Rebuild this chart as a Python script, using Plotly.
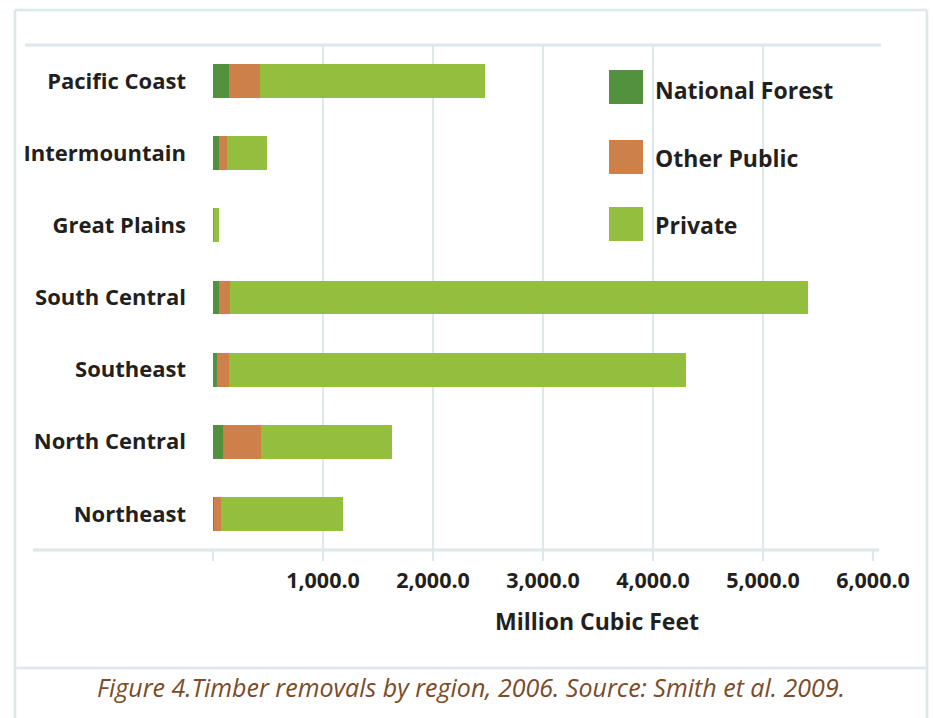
import plotly.graph_objects as go

regions = ["Pacific Coast", "Intermountain", "Great Plains", "South Central",
           "Southeast", "North Central", "Northeast"]
national_forest = [141, 59, 3, 50, 32, 87, 5]
other_public = [282, 64, 6, 100, 109, 346, 72]
private = [2049, 364, 50, 5255, 4162, 1193, 1102]
series_names = ["National Forest", "Other Public", "Private"]
series_colors = ["#52923F", "#CD804A", "#93BE3E"]
tick_values = [0, 1000, 2000, 3000, 4000, 5000, 6000]
tick_labels = ["", "1,000.0", "2,000.0", "3,000.0", "4,000.0", "5,000.0", "6,000.0"]

W, H = 933, 718
L, R, T, B = 213, 60, 45, 168
PW, PH = W - L - R, H - T - B
GRID = "#dce8e9"
TXT = "#231f20"
FONT = "Open Sans"


def px(x):
    return (x - L) / PW


def py(y):
    return (H - B - y) / PH


fig = go.Figure()
for name, vals, col in zip(series_names, [national_forest, other_public, private], series_colors):
    fig.add_trace(go.Bar(y=regions, x=vals, name=name, orientation="h",
                         marker=dict(color=col, line=dict(width=0)), showlegend=False))

shapes = []
# plot top/bottom lines
shapes.append(dict(type="line", xref="paper", yref="paper", x0=px(25), x1=px(881), y0=1, y1=1,
                   line=dict(color=GRID, width=3), layer="below"))
shapes.append(dict(type="line", xref="paper", yref="paper", x0=px(33), x1=px(879), y0=0, y1=0,
                   line=dict(color=GRID, width=3), layer="below"))
# outer frame
frame = [(15, 10, 15, 718), (15, 10, 927, 10), (927, 10, 927, 718), (15, 668, 927, 668)]
for x0, y0, x1, y1 in frame:
    shapes.append(dict(type="line", xref="paper", yref="paper", x0=px(x0), x1=px(x1),
                       y0=py(y0), y1=py(y1), line=dict(color=GRID, width=2.5)))
# legend
annotations = []
box_y = [87, 157, 224]
text_y = [90, 158, 225]
for name, col, yb, yt in zip(series_names, series_colors, box_y, text_y):
    shapes.append(dict(type="rect", xref="paper", yref="paper", x0=px(609), x1=px(643),
                       y0=py(yb - 17), y1=py(yb + 17), fillcolor=col, line=dict(width=0)))
    annotations.append(dict(xref="paper", yref="paper", x=px(653), y=py(yt), text=name,
                            showarrow=False, xanchor="left", yanchor="middle",
                            font=dict(family=FONT, size=23, color=TXT, weight="bold")))

annotations.append(dict(xref="paper", yref="paper", x=px(597), y=py(621), text="Million Cubic Feet",
                        showarrow=False, xanchor="center", yanchor="middle",
                        font=dict(family=FONT, size=23, color=TXT, weight="bold")))
annotations.append(dict(xref="paper", yref="paper", x=px(471), y=py(687),
                        text="Figure 4.Timber removals by region, 2006. Source: Smith et al. 2009.",
                        showarrow=False, xanchor="center", yanchor="middle",
                        font=dict(family=FONT, size=25, color="#7B4B2A", style="italic")))

fig.update_layout(
    width=W, height=H,
    margin=dict(l=L, r=R, t=T, b=B, pad=0),
    barmode="stack", bargap=0.53,
    plot_bgcolor="white", paper_bgcolor="white",
    shapes=shapes, annotations=annotations,
    xaxis=dict(range=[0, 6000], tickvals=tick_values, ticktext=tick_labels,
               showgrid=True, gridcolor=GRID, gridwidth=2, zeroline=False,
               ticks="outside", ticklen=10, tickwidth=2, tickcolor=GRID,
               showline=False, ticklabelstandoff=1,
               tickfont=dict(family=FONT, size=21.5, color=TXT, weight="bold")),
    yaxis=dict(categoryorder="array", categoryarray=regions, autorange="reversed",
               showgrid=False, zeroline=False, showline=False, ticks="",
               ticklabelstandoff=26,
               tickfont=dict(family=FONT, size=22, color=TXT, weight="bold")),
)

fig.write_html("out.html", config={"displayModeBar": False},
               post_script="document.body.style.margin='0px';")
